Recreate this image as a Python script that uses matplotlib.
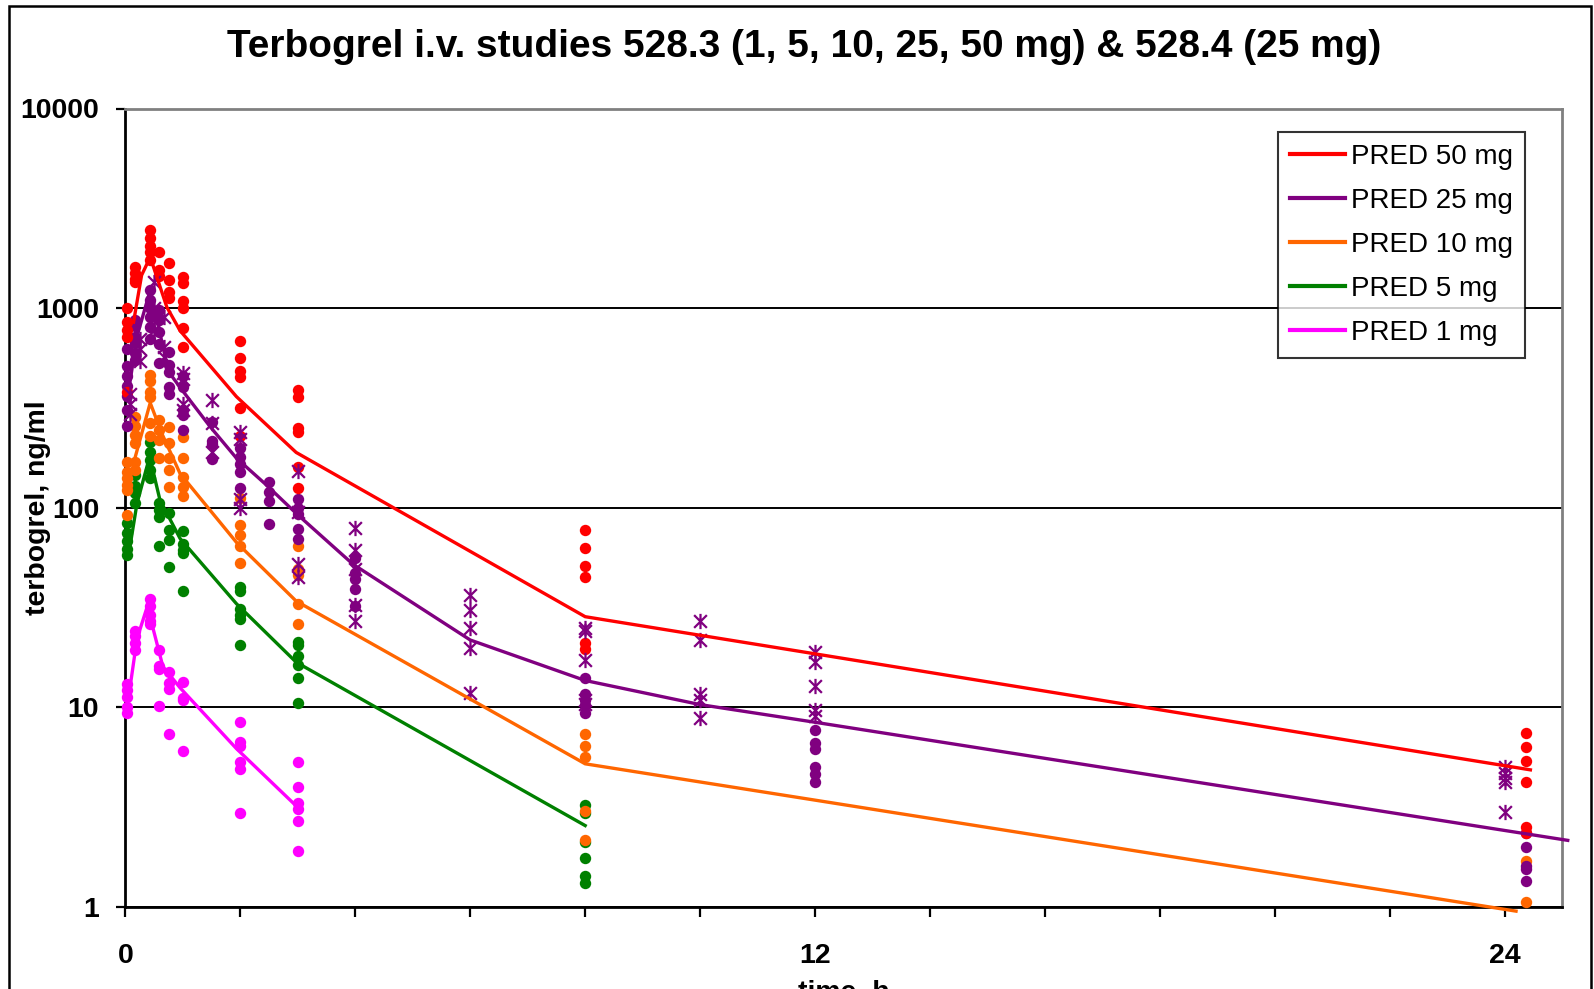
import matplotlib
matplotlib.use("Agg")
import matplotlib.pyplot as plt
from matplotlib.path import Path
from matplotlib.lines import Line2D
from matplotlib.patches import Rectangle
from matplotlib.ticker import FixedLocator, FixedFormatter, NullLocator

plt.rcParams['font.family'] = ['Liberation Sans', 'DejaVu Sans']

# ---------------- observed concentrations (ng/ml), keyed by sampling time (h) ----------------
# study 528.3, 50 mg
obs_50mg = {
    0.03: [1000, 850, 780, 720, 380],
    0.17: [1600, 1500, 1400, 1350],
    0.42: [2450, 2250, 2050, 1900, 1750],
    0.58: [1900, 1560, 1450],
    0.75: [1680, 1380, 1200, 1120],
    1.0: [1430, 1330, 1080, 1000, 790, 640],
    2.0: [680, 560, 485, 450, 315, 228],
    3.0: [390, 360, 250, 240, 160, 125],
    8.0: [77, 63, 51, 45, 21, 19.5],
    24.37: [7.4, 6.3, 5.4, 4.2, 2.5, 2.35],
}
# study 528.3, 25 mg
obs_25mg = {
    0.03: [620, 510, 457, 407, 362, 310, 256],
    0.17: [875, 810, 720, 670, 595, 552],
    0.42: [1230, 1100, 1000, 900, 800, 700],
    0.58: [980, 870, 760, 660, 530],
    0.75: [600, 520, 480, 400, 370],
    1.0: [455, 400, 310, 290, 245],
    1.5: [270, 216, 208, 176],
    2.0: [200, 180, 165, 150, 125],
    2.5: [135, 120, 108, 83],
    3.0: [111, 99, 93, 78, 70],
    4.0: [56, 47, 44, 39, 32],
    8.0: [14, 11.7, 10.9, 10.2, 9.3],
    12.0: [7.7, 6.6, 6.2, 5.0, 4.6, 4.2],
    24.37: [2.35, 2.0, 1.6, 1.55, 1.35],
}
# study 528.4, 25 mg
obs_25mg_528_4 = {
    0.08: [370, 330, 295],
    0.25: [700, 620, 540],
    0.5: [1355, 1000, 880, 780],
    0.67: [900, 640, 570],
    1.0: [470, 440, 330, 310],
    1.5: [348, 265, 190],
    2.0: [240, 220, 110, 100],
    3.0: [152, 95, 52, 45],
    4.0: [79, 61, 49, 32.5, 27],
    6.0: [36.6, 30.7, 24.9, 19.8, 11.8],
    8.0: [25, 24, 17.3, 10.9, 10.4],
    10.0: [26.9, 21.7, 11.7, 10.9, 8.8],
    12.0: [19.0, 16.9, 12.7, 9.7, 9.0],
    24.0: [5.0, 4.7, 4.4, 4.2, 2.97],
}
# study 528.3, 10 mg
obs_10mg = {
    0.03: [170, 150, 140, 130, 122, 92],
    0.17: [285, 255, 230, 210, 170, 155],
    0.42: [460, 430, 380, 360, 265, 228],
    0.58: [275, 245, 219, 177],
    0.75: [253, 210, 177, 155, 127],
    1.0: [227, 177, 143, 127, 114],
    2.0: [112, 82, 73, 64, 53],
    3.0: [64, 49, 46, 33, 26],
    8.0: [7.3, 6.4, 5.6, 3.0, 2.15],
    24.37: [1.7, 1.05],
}
# study 528.3, 5 mg
obs_5mg = {
    0.03: [84, 75, 68, 62, 58],
    0.17: [145, 128, 118, 105],
    0.42: [214, 191, 173, 155, 140],
    0.58: [105, 97, 90, 64],
    0.75: [94, 77, 69, 50.6],
    1.0: [76, 66, 61, 59, 38],
    2.0: [40, 38, 31, 29, 27.5, 20.6],
    3.0: [21.3, 20.5, 18, 16.3, 14, 10.5],
    8.0: [3.25, 2.95, 2.1, 1.75, 1.42, 1.31],
}
# study 528.3, 1 mg
obs_1mg = {
    0.03: [13, 12.2, 11.3, 10, 9.3],
    0.17: [24, 22.6, 21, 19.4],
    0.42: [35, 32, 29, 27, 26],
    0.58: [19.4, 16, 15.5, 10.1],
    0.75: [15, 13.2, 12.4, 7.3],
    1.0: [13.4, 11.1, 10.8, 6.0],
    2.0: [8.4, 6.7, 6.4, 5.3, 4.9, 2.95],
    3.0: [5.3, 4.0, 3.3, 3.1, 2.7, 1.9],
}

# ---------------- population predictions ----------------
pred_50_t = [0.14, 0.28, 0.43, 0.72, 0.95, 1.93, 2.97, 8.0, 12.0, 24.45]
pred_50_c = [850, 1460, 1800, 1010, 770, 360, 189, 28.4, 18.5, 4.85]
pred_25_t = [0.08, 0.2, 0.43, 0.75, 0.95, 1.47, 1.93, 2.45, 2.98, 3.96, 6.0, 8.0, 10.0, 12.0, 25.1]
pred_25_c = [430, 720, 1230, 480, 400, 255, 177, 130, 93, 52, 21.7, 13.6, 10.3, 8.4, 2.15]
pred_10_t = [0.14, 0.43, 0.63, 0.95, 1.93, 2.97, 8.0, 12.0, 24.2]
pred_10_c = [167, 335, 236, 148, 67, 34, 5.2, 3.42, 0.95]
pred_5_t = [0.05, 0.2, 0.42, 0.6, 0.95, 1.93, 2.97, 8.0]
pred_5_c = [57, 105, 180, 109, 70, 33, 16.8, 2.55]
pred_1_t = [0.05, 0.2, 0.38, 0.65, 0.95, 1.93, 2.97]
pred_1_c = [11, 22, 32, 16, 12.5, 6.2, 3.2]

RED, PURPLE, ORANGE, GREEN, MAGENTA = '#FF0000', '#800080', '#FF6600', '#008000', '#FF00FF'

W, H = 1594, 989
fig = plt.figure(figsize=(W / 100, H / 100), dpi=100)
fig.patch.set_facecolor('white')

# plot area in pixel coordinates
L, R, T, B = 125.5, 1562, 108.5, 906.7
ax = fig.add_axes([L / W, 1 - B / H, (R - L) / W, (B - T) / H])
ax.set_yscale('log')
ax.set_xlim(0, 25)
ax.set_ylim(1, 10000)


def flatten(obs):
    ts, cs = [], []
    for t, vals in obs.items():
        ts += [t] * len(vals)
        cs += vals
    return ts, cs


dot_kw = dict(linestyle='none', marker='o', markersize=8.2, markeredgewidth=0, clip_on=False)
for obs, col in [(obs_1mg, MAGENTA), (obs_5mg, GREEN), (obs_10mg, ORANGE),
                 (obs_25mg, PURPLE), (obs_50mg, RED)]:
    ts, cs = flatten(obs)
    ax.plot(ts, cs, color=col, zorder=3, **dot_kw)

# asterisk marker: diagonal cross with a vertical bar
asterisk = Path([(-1, -1), (1, 1), (-1, 1), (1, -1), (0, -1.2), (0, 1.2)],
                [Path.MOVETO, Path.LINETO] * 3)
ts, cs = flatten(obs_25mg_528_4)
ax.plot(ts, cs, linestyle='none', marker=asterisk, markersize=11, markeredgewidth=1.6,
        markerfacecolor='none', markeredgecolor=PURPLE, zorder=4, clip_on=False)

pred_series = [
    (pred_1_t, pred_1_c, MAGENTA, 'PRED 1 mg'),
    (pred_5_t, pred_5_c, GREEN, 'PRED 5 mg'),
    (pred_10_t, pred_10_c, ORANGE, 'PRED 10 mg'),
    (pred_25_t, pred_25_c, PURPLE, 'PRED 25 mg'),
    (pred_50_t, pred_50_c, RED, 'PRED 50 mg'),
]
handles = {}
for t, c, col, lab in pred_series:
    ln, = ax.plot(t, c, color=col, lw=2.4, zorder=5, clip_on=False, solid_joinstyle='miter')
    handles[lab] = ln

# axes styling
for side in ['left', 'bottom']:
    ax.spines[side].set_color('black')
    ax.spines[side].set_linewidth(2)
for side in ['top', 'right']:
    ax.spines[side].set_color('#808080')
    ax.spines[side].set_linewidth(2)

ax.set_axisbelow(True)
ax.yaxis.grid(True, which='major', color='black', linewidth=1.4)
ax.xaxis.grid(False)

ax.yaxis.set_major_locator(FixedLocator([1, 10, 100, 1000, 10000]))
ax.yaxis.set_major_formatter(FixedFormatter(['1', '10', '100', '1000', '10000']))
ax.yaxis.set_minor_locator(NullLocator())
xt = list(range(0, 25, 2))
ax.xaxis.set_major_locator(FixedLocator(xt))
ax.xaxis.set_major_formatter(FixedFormatter([str(v) if v in (0, 12, 24) else '' for v in xt]))

ax.tick_params(axis='y', direction='out', length=6.5, width=1.6, pad=12.5,
               labelsize=20.5, colors='black')
ax.tick_params(axis='x', direction='out', length=7.2, width=1.6, pad=19,
               labelsize=20.5, colors='black')
for lbl in ax.get_xticklabels() + ax.get_yticklabels():
    lbl.set_fontweight('bold')

# titles and axis labels
fig.text(804 / W, 1 - 57 / H, 'Terbogrel i.v. studies 528.3 (1, 5, 10, 25, 50 mg) & 528.4 (25 mg)',
         ha='center', va='baseline', fontsize=28, fontweight='bold')
fig.text(37.6 / W, 1 - 507.6 / H, 'terbogrel, ng/ml', rotation=90, ha='center', va='center',
         fontsize=20.4, fontweight='bold')
fig.text(843.7 / W, 1 - 1000 / H, 'time, h', ha='center', va='baseline',
         fontsize=20.4, fontweight='bold')

order = ['PRED 50 mg', 'PRED 25 mg', 'PRED 10 mg', 'PRED 5 mg', 'PRED 1 mg']
leg = fig.legend([Line2D([], [], color=handles[k].get_color(), lw=3) for k in order], order,
                 loc='upper right', bbox_to_anchor=(1525 / W, 1 - 132 / H),
                 bbox_transform=fig.transFigure, frameon=True, fancybox=False,
                 edgecolor='black', fontsize=20, handlelength=2.0, handletextpad=0.22,
                 labelspacing=0.65, borderpad=0.42, borderaxespad=0)
leg.get_frame().set_linewidth(1.5)

# outer chart border
fig.add_artist(Rectangle((9 / W, -0.05), (1591 - 9) / W, 1 - 6 / H + 0.05,
                         transform=fig.transFigure, fill=False, lw=1.8, edgecolor='black'))

fig.savefig('out.png', dpi=100)
